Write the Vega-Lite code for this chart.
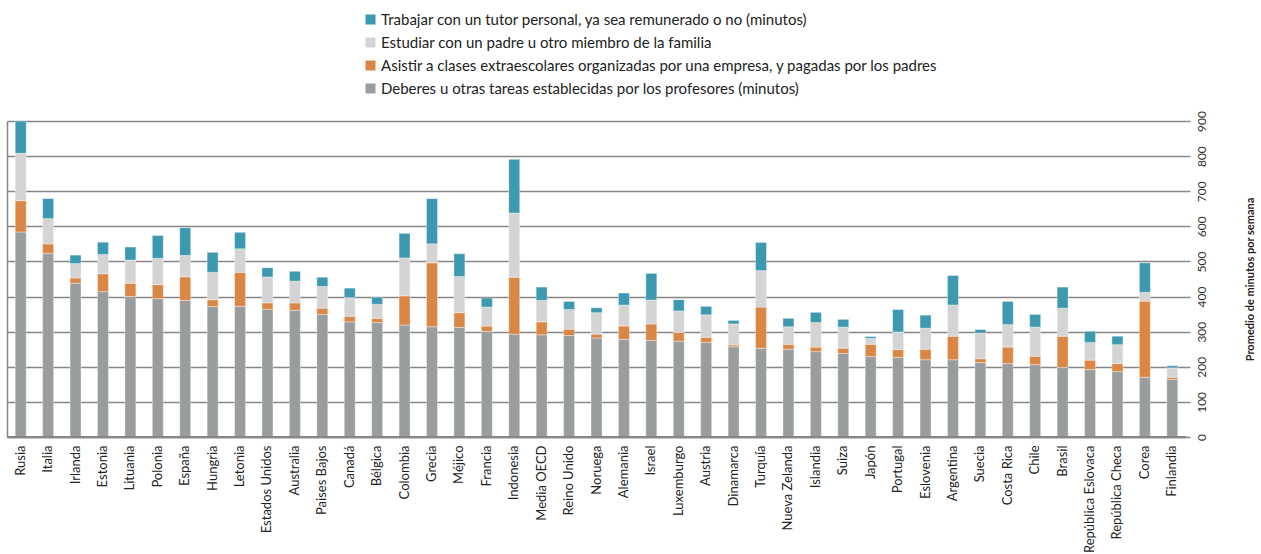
{
  "$schema": "https://vega.github.io/schema/vega-lite/v6.json",
  "width": 1179,
  "height": 316,
  "autosize": {"type": "none"},
  "padding": {"left": 7, "top": 121, "right": 75, "bottom": 117},
  "background": "white",
  "config": {
    "font": "Lato",
    "view": {"stroke": null}
  },
  "data": {
    "values": [
      {"p": "Rusia", "a": 584, "b": 89, "c": 135, "d": 92},
      {"p": "Italia", "a": 523, "b": 27, "c": 72, "d": 57},
      {"p": "Irlanda", "a": 438, "b": 15, "c": 41, "d": 24},
      {"p": "Estonia", "a": 414, "b": 51, "c": 55, "d": 35},
      {"p": "Lituania", "a": 400, "b": 38, "c": 66, "d": 37},
      {"p": "Polonia", "a": 394, "b": 40, "c": 75, "d": 65},
      {"p": "España", "a": 389, "b": 67, "c": 61, "d": 79},
      {"p": "Hungria", "a": 372, "b": 19, "c": 78, "d": 57},
      {"p": "Letonia", "a": 372, "b": 97, "c": 67, "d": 47},
      {"p": "Estados Unidos", "a": 364, "b": 18, "c": 74, "d": 26},
      {"p": "Australia", "a": 361, "b": 21, "c": 62, "d": 28},
      {"p": "Paises Bajos", "a": 349, "b": 18, "c": 62, "d": 26},
      {"p": "Canadá", "a": 328, "b": 16, "c": 53, "d": 27},
      {"p": "Bélgica", "a": 326, "b": 12, "c": 40, "d": 20},
      {"p": "Colombia", "a": 319, "b": 83, "c": 108, "d": 70},
      {"p": "Grecia", "a": 314, "b": 182, "c": 54, "d": 129},
      {"p": "Méjico", "a": 312, "b": 42, "c": 103, "d": 65},
      {"p": "Francia", "a": 301, "b": 15, "c": 54, "d": 26},
      {"p": "Indonesia", "a": 293, "b": 162, "c": 183, "d": 153},
      {"p": "Media OECD", "a": 291, "b": 37, "c": 61, "d": 38},
      {"p": "Reino Unido", "a": 289, "b": 18, "c": 56, "d": 23},
      {"p": "Noruega", "a": 282, "b": 11, "c": 61, "d": 14},
      {"p": "Alemania", "a": 278, "b": 38, "c": 60, "d": 34},
      {"p": "Israel", "a": 275, "b": 47, "c": 68, "d": 76},
      {"p": "Luxemburgo", "a": 273, "b": 25, "c": 61, "d": 32},
      {"p": "Austria", "a": 270, "b": 14, "c": 64, "d": 24},
      {"p": "Dinamarca", "a": 257, "b": 5, "c": 60, "d": 10},
      {"p": "Turquía", "a": 253, "b": 117, "c": 104, "d": 80},
      {"p": "Nueva Zelanda", "a": 250, "b": 14, "c": 50, "d": 24},
      {"p": "Islandia", "a": 243, "b": 13, "c": 70, "d": 29},
      {"p": "Suiza", "a": 238, "b": 15, "c": 60, "d": 22},
      {"p": "Japón", "a": 229, "b": 35, "c": 17, "d": 5},
      {"p": "Portugal", "a": 227, "b": 22, "c": 50, "d": 64},
      {"p": "Eslovenia", "a": 220, "b": 30, "c": 60, "d": 37},
      {"p": "Argentina", "a": 220, "b": 67, "c": 89, "d": 84},
      {"p": "Suecia", "a": 212, "b": 11, "c": 73, "d": 10},
      {"p": "Costa Rica", "a": 209, "b": 47, "c": 64, "d": 66},
      {"p": "Chile", "a": 206, "b": 24, "c": 83, "d": 36},
      {"p": "Brasil", "a": 198, "b": 89, "c": 80, "d": 60},
      {"p": "República Eslovaca", "a": 192, "b": 27, "c": 50, "d": 32},
      {"p": "República Checa", "a": 186, "b": 23, "c": 54, "d": 24},
      {"p": "Corea", "a": 170, "b": 217, "c": 25, "d": 84},
      {"p": "Finlandia", "a": 164, "b": 6, "c": 27, "d": 6}
    ]
  },
  "transform": [
    {"fold": ["a", "b", "c", "d"], "as": ["k", "v"]}
  ],
  "resolve": {"axis": {"y": "independent"}},
  "layer": [
    {
      "mark": {"type": "bar", "stroke": "#ffffff", "strokeWidth": 0.6, "strokeOpacity": 0.6},
      "encoding": {
        "x": {
          "field": "p",
          "type": "nominal",
          "sort": null,
          "scale": {"paddingInner": 0.6, "paddingOuter": 0.3},
          "axis": {
            "title": null,
            "labelAngle": -90,
            "labelAlign": "right",
            "labelBaseline": "middle",
            "labelFontSize": 13,
            "labelColor": "#222222",
            "labelPadding": 8,
            "ticks": false,
            "domain": true,
            "domainColor": "#868686",
            "domainWidth": 1.5,
            "labelOverlap": false
          }
        },
        "y": {
          "field": "v",
          "type": "quantitative",
          "stack": "zero",
          "scale": {"domain": [0, 900], "nice": false},
          "axis": {
            "orient": "right",
            "values": [0, 100, 200, 300, 400, 500, 600, 700, 800, 900],
            "title": "Promedio de minutos por semana",
            "titleAngle": -90,
            "titleFontWeight": "bold",
            "titleFontSize": 11,
            "titleColor": "#222222",
            "titlePadding": 48,
            "labelAngle": -90,
            "labelAlign": "center",
            "labelBaseline": "top",
            "labelFontSize": 12,
            "labelColor": "#333333",
            "labelPadding": 6,
            "tickSize": 4,
            "tickColor": "#868686",
            "tickWidth": 1.5,
            "domain": false,
            "grid": true,
            "gridColor": "#868686",
            "gridWidth": 1.5
          }
        },
        "color": {
          "field": "k",
          "type": "nominal",
          "scale": {
            "domain": ["d", "c", "b", "a"],
            "range": ["#3C99B0", "#D3D4D3", "#DA8746", "#9A9D9D"]
          },
          "legend": {
            "title": null,
            "orient": "none",
            "legendX": 356,
            "legendY": -109,
            "symbolType": "square",
            "symbolSize": 100,
            "symbolStrokeWidth": 0,
            "labelFontSize": 15,
            "labelColor": "#222222",
            "labelOffset": 3,
            "rowPadding": 7,
            "labelLimit": 800,
            "labelExpr": "datum.label == 'd' ? 'Trabajar con un tutor personal, ya sea remunerado o no (minutos)' : datum.label == 'c' ? 'Estudiar con un padre u otro miembro de la familia' : datum.label == 'b' ? 'Asistir a clases extraescolares organizadas por una empresa, y pagadas por los padres' : 'Deberes u otras tareas establecidas por los profesores (minutos)'"
          }
        },
        "order": {"field": "k", "sort": "ascending"}
      }
    },
    {
      "mark": {"type": "rule", "color": "#868686", "strokeWidth": 1.5},
      "encoding": {
        "y": {
          "datum": 0,
          "type": "quantitative",
          "axis": {
            "orient": "left",
            "title": null,
            "labels": false,
            "ticks": false,
            "grid": false,
            "domain": true,
            "domainColor": "#868686",
            "domainWidth": 1.5
          }
        }
      }
    }
  ]
}
